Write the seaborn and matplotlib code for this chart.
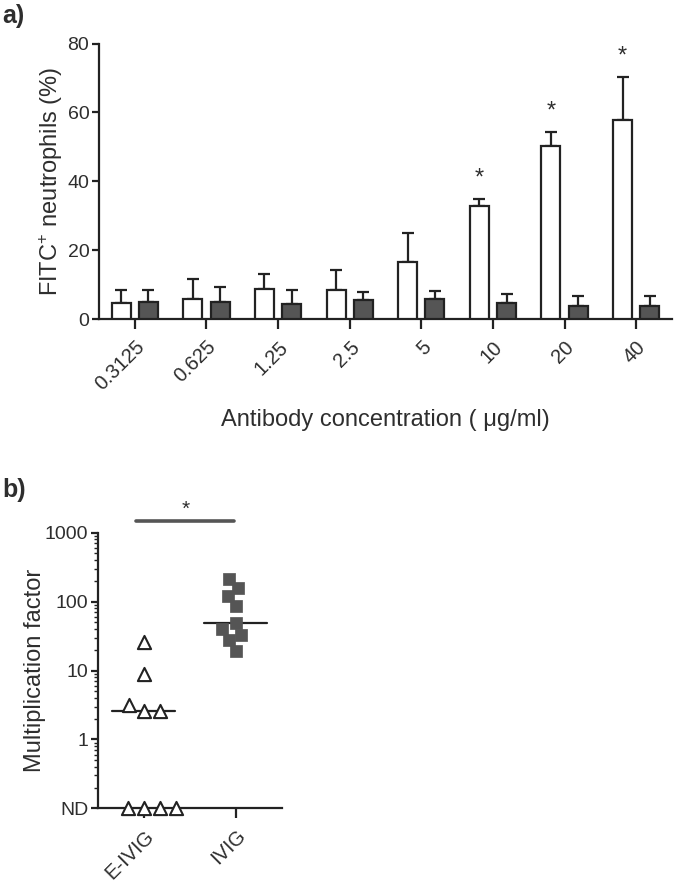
import numpy as np
import pandas as pd
import matplotlib
matplotlib.use("Agg")
import matplotlib.pyplot as plt
from matplotlib.ticker import LogLocator, NullFormatter, FixedLocator
import seaborn as sns

# ---------------- data ----------------
concentrations = ["0.3125", "0.625", "1.25", "2.5", "5", "10", "20", "40"]
groups = ["E-IVIG", "IVIG"]
open_mean = [4.8, 6.0, 8.8, 8.5, 16.5, 33.0, 50.2, 57.7]
open_err = [3.8, 5.8, 4.2, 5.8, 8.5, 1.8, 4.1, 12.6]
filled_mean = [5.1, 5.1, 4.5, 5.6, 5.9, 4.8, 3.9, 3.9]
filled_err = [3.5, 4.3, 4.1, 2.3, 2.3, 2.6, 2.8, 2.8]
significant = ["10", "20", "40"]

ND = 0.1  # "not detected" plotted on the bottom of the log axis
eivig_values = [ND, ND, ND, ND, 2.57, 2.57, 3.2, 8.8, 25.7]
ivig_values = [213, 158, 120, 85, 49, 40, 32.6, 28, 19.5]
b_yticks = [0.1, 1, 10, 100, 1000]
b_yticklabels = ["ND", "1", "10", "100", "1000"]

# ---------------- style ----------------
sns.set_theme(style="ticks")
plt.rcParams["font.family"] = ["Liberation Sans", "DejaVu Sans"]
plt.rcParams["mathtext.fontset"] = "custom"
plt.rcParams["mathtext.rm"] = "Liberation Sans"
plt.rcParams["mathtext.it"] = "Liberation Sans:italic"
plt.rcParams["mathtext.bf"] = "Liberation Sans:bold"

LINE = "#222222"
TEXT = "#2e2e2e"
DARK = "#555555"

W, H = 675, 882
fig = plt.figure(figsize=(W / 100, H / 100), dpi=100)

# ---------------- panel a ----------------
ax1 = fig.add_axes([99 / W, 1 - 319.3 / H, 573 / W, 275.8 / H])
df_a = pd.DataFrame({
    "conc": concentrations * 2,
    "group": [groups[0]] * len(concentrations) + [groups[1]] * len(concentrations),
    "value": open_mean + filled_mean,
})
sns.barplot(data=df_a, x="conc", y="value", hue="group", order=concentrations,
            hue_order=groups, palette={groups[0]: "white", groups[1]: DARK},
            edgecolor=LINE, linewidth=1.6, width=0.76, gap=0.3,
            errorbar=None, legend=False, ax=ax1, zorder=3)

patches = sorted(ax1.patches, key=lambda p: p.get_x())
xs = [p.get_x() + p.get_width() / 2 for p in patches]
hs = [p.get_height() for p in patches]
errs = []
for o, f in zip(open_err, filled_err):
    errs += [o, f]
ax1.errorbar(xs, hs, yerr=[np.zeros(len(errs)), errs], fmt="none",
             ecolor=LINE, elinewidth=1.6, capsize=4, capthick=1.6, zorder=2)

for i, c in enumerate(concentrations):
    if c in significant:
        k = 2 * i
        ax1.text(xs[k], hs[k] + errs[k] + 6, "*", ha="center", va="center",
                 fontsize=17, color=TEXT)

ax1.set_ylim(0, 80)
ax1.set_yticks([0, 20, 40, 60, 80])
ax1.set_xlim(-0.5, len(concentrations) - 0.5)
ax1.set_xticks(range(len(concentrations)))
ax1.set_xticklabels(concentrations, rotation=45, ha="right", rotation_mode="anchor")
ax1.set_ylabel("FITC$^{+}$ neutrophils (%)", fontsize=17, color=TEXT, labelpad=2)
ax1.set_xlabel("Antibody concentration ( \u03bcg/ml)", fontsize=17, color=TEXT, labelpad=11)
for s in ["top", "right"]:
    ax1.spines[s].set_visible(False)
for s in ["left", "bottom"]:
    ax1.spines[s].set_linewidth(1.6)
    ax1.spines[s].set_color(LINE)
ax1.tick_params(axis="y", direction="out", length=5, width=1.6, color=LINE,
                labelsize=14, labelcolor=TEXT, pad=2)
ax1.tick_params(axis="x", direction="out", length=7, width=1.6, color=LINE,
                labelsize=14.5, labelcolor=TEXT, pad=6)

# ---------------- panel b ----------------
ax2 = fig.add_axes([98 / W, 1 - 808.3 / H, 183.7 / W, 275.6 / H])
ax2.set_yscale("log")
ax2.set_ylim(0.1, 1000)
ax2.set_xlim(-0.5, 1.5)

df_e = pd.DataFrame({"group": groups[0], "value": eivig_values})
df_i = pd.DataFrame({"group": groups[1], "value": ivig_values})
sns.swarmplot(data=df_e, x="group", y="value", order=groups, marker="^",
              size=9.5, color="white", edgecolor=LINE, linewidth=1.5,
              ax=ax2, clip_on=False, zorder=5)
sns.swarmplot(data=df_i, x="group", y="value", order=groups, marker="s",
              size=8.5, color=DARK, edgecolor=DARK, linewidth=0.5,
              ax=ax2, clip_on=False, zorder=5)

for j, vals in enumerate([eivig_values, ivig_values]):
    med = np.median(vals)
    ax2.plot([j - 0.35, j + 0.34], [med, med], color=LINE, lw=1.6, zorder=4)

ax2.plot([-0.09, 0.98], [1480, 1480], color=DARK, lw=2.6,
         solid_capstyle="round", clip_on=False)
ax2.text(0.45, 2150, "*", ha="center", va="center", fontsize=15, color=TEXT,
         clip_on=False)

ax2.set_xlim(-0.5, 1.5)
ax2.set_ylim(0.1, 1000)
ax2.yaxis.set_major_locator(FixedLocator(b_yticks))
ax2.set_yticklabels(b_yticklabels)
ax2.yaxis.set_minor_locator(LogLocator(base=10, subs=np.arange(2, 10), numticks=20))
ax2.yaxis.set_minor_formatter(NullFormatter())
ax2.set_xticks([0, 1])
ax2.set_xticklabels(groups, rotation=45, ha="right", rotation_mode="anchor")
ax2.set_xlabel("")
ax2.set_ylabel("Multiplication factor", fontsize=17, color=TEXT, labelpad=-1)
for s in ["top", "right"]:
    ax2.spines[s].set_visible(False)
for s in ["left", "bottom"]:
    ax2.spines[s].set_linewidth(1.6)
    ax2.spines[s].set_color(LINE)
ax2.tick_params(axis="y", which="major", direction="out", length=5, width=1.6,
                color=LINE, labelsize=14, labelcolor=TEXT, pad=2)
ax2.tick_params(axis="y", which="minor", direction="out", length=3, width=1.0,
                color=LINE)
ax2.tick_params(axis="x", direction="out", length=7, width=1.6, color=LINE,
                labelsize=14.5, labelcolor=TEXT, pad=6)

fig.text(0.004, 1 - 16 / H, "a)", fontsize=18, fontweight="bold", color=TEXT,
         va="center", ha="left")
fig.text(0.004, 1 - 490 / H, "b)", fontsize=18, fontweight="bold", color=TEXT,
         va="center", ha="left")

fig.savefig("out.png", dpi=100)
